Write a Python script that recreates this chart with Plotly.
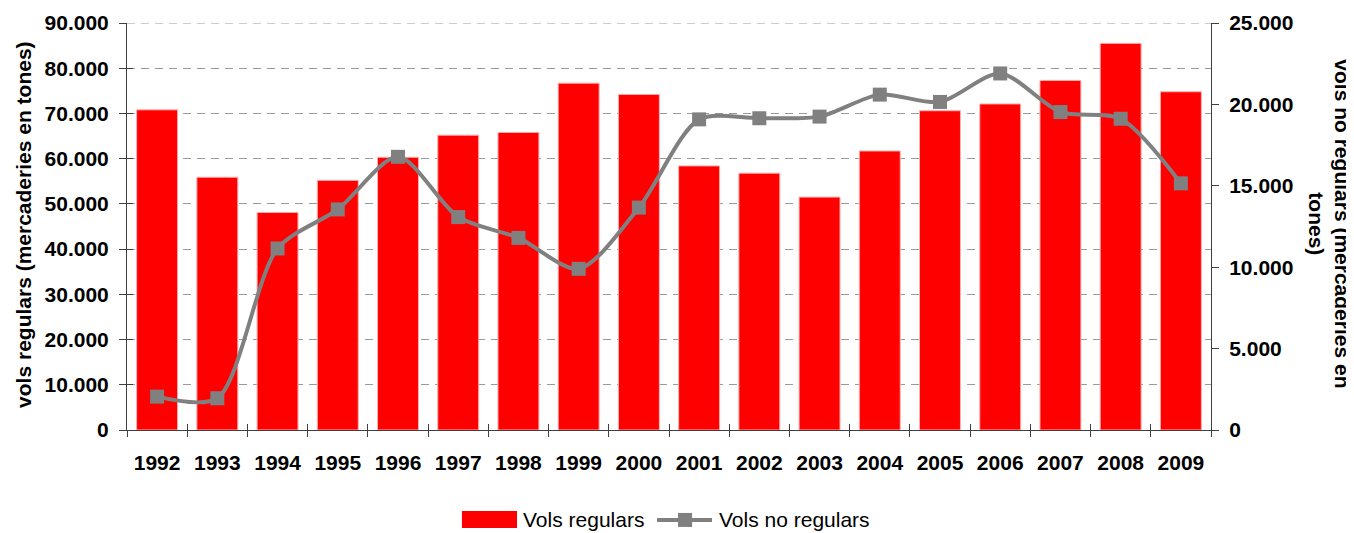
import plotly.graph_objects as go

years = ["1992", "1993", "1994", "1995", "1996", "1997", "1998", "1999", "2000",
         "2001", "2002", "2003", "2004", "2005", "2006", "2007", "2008", "2009"]
vols_regulars = [70800, 55900, 48100, 55200, 60300, 65200, 65800, 76700, 74200,
                 58400, 56800, 51500, 61700, 70600, 72100, 77300, 85500, 74800]
vols_no_regulars = [2050, 1950, 11150, 13550, 16780, 13080, 11800, 9900, 13660,
                    19080, 19150, 19250, 20600, 20150, 21900, 19530, 19120, 15150]
left_ticks = [0, 10000, 20000, 30000, 40000, 50000, 60000, 70000, 80000, 90000]
left_labels = ["0", "10.000", "20.000", "30.000", "40.000", "50.000", "60.000", "70.000", "80.000", "90.000"]
right_ticks = [0, 5000, 10000, 15000, 20000, 25000]
right_labels = ["0", "5.000", "10.000", "15.000", "20.000", "25.000"]

FONT = "Liberation Sans, Arial, sans-serif"
AX = "#404040"
BAR_C = "#FF0000"
LINE_C = "#808080"
GRID_C = "#9A9A9A"
FS = 21

fig = go.Figure()
fig.add_trace(go.Bar(
    x=years, y=vols_regulars, name="Vols regulars",
    marker=dict(color=BAR_C, line=dict(color="#FFB0B0", width=1)),
    yaxis="y", showlegend=False,
))
fig.add_trace(go.Scatter(
    x=years, y=vols_no_regulars, name="Vols no regulars",
    mode="lines+markers",
    line=dict(color=LINE_C, width=4, shape="spline", smoothing=0.8),
    marker=dict(symbol="square", size=14, color=LINE_C),
    yaxis="y2", showlegend=False,
))
# invisible helper trace so the inner-tick overlay axes get drawn
fig.add_trace(go.Scatter(
    x=years, y=vols_regulars, mode="lines", line=dict(width=0, color="rgba(0,0,0,0)"),
    xaxis="x2", yaxis="y3", hoverinfo="skip", showlegend=False,
))

ntick = dict(showline=False, showgrid=False, zeroline=False, showticklabels=False,
             ticks="inside", ticklen=6, tickcolor=AX)

fig.update_layout(
    width=1346, height=525,
    margin=dict(l=119, r=143, t=15, b=103, autoexpand=False),
    paper_bgcolor="white", plot_bgcolor="white",
    font=dict(family=FONT, color="black"),
    bargap=0.32,
    showlegend=False,
    xaxis=dict(
        type="category", range=[-0.5, 17.5], showline=True, linecolor=AX, linewidth=1,
        ticks="outside", ticklen=6, tickcolor=AX, tickson="boundaries",
        tickfont=dict(family=FONT, size=FS, color="black", weight="bold"),
        ticklabelstandoff=14, showgrid=False,
    ),
    xaxis2=dict(type="category", range=[-0.5, 17.5], overlaying="x", anchor="y",
                tickson="boundaries", categoryarray=years, **ntick),
    yaxis=dict(
        range=[0, 90000], tickvals=left_ticks, ticktext=left_labels,
        showline=True, linecolor=AX, linewidth=1,
        ticks="outside", ticklen=7, tickcolor=AX, ticklabelstandoff=6,
        tickfont=dict(family=FONT, size=FS, color="black", weight="bold"),
        showgrid=True, gridcolor=GRID_C, gridwidth=1, griddash="8px,6px",
        zeroline=False,
    ),
    yaxis3=dict(range=[0, 90000], tickvals=left_ticks, overlaying="y", side="left",
                anchor="x", **ntick),
    yaxis2=dict(
        range=[0, 25000], overlaying="y", side="right", anchor="x",
        tickvals=right_ticks, ticktext=right_labels,
        showline=True, linecolor=AX, linewidth=1,
        ticks="outside", ticklen=7, tickcolor=AX, ticklabelstandoff=6,
        tickfont=dict(family=FONT, size=FS, color="black", weight="bold"),
        showgrid=False, zeroline=False,
    ),
    annotations=[
        dict(text="<b>vols regulars (mercaderies en tones)</b>", xref="paper", yref="paper",
             x=-0.095, y=0.504, textangle=-90, showarrow=False, xanchor="center", yanchor="middle",
             font=dict(family=FONT, size=FS, color="black")),
        dict(text="<b>vols no regulars (mercaderies en</b>", xref="paper", yref="paper",
             x=1.1215, y=0.506, textangle=90, showarrow=False, xanchor="center", yanchor="middle",
             font=dict(family=FONT, size=FS, color="black")),
        dict(text="<b>tones)</b>", xref="paper", yref="paper",
             x=1.0975, y=0.506, textangle=90, showarrow=False, xanchor="center", yanchor="middle",
             font=dict(family=FONT, size=FS, color="black")),
        # legend texts
        dict(text="Vols regulars", xref="paper", yref="paper", x=0.3635, y=-0.221,
             xanchor="left", yanchor="middle", showarrow=False,
             font=dict(family=FONT, size=FS, color="black")),
        dict(text="Vols no regulars", xref="paper", yref="paper", x=0.5445, y=-0.221,
             xanchor="left", yanchor="middle", showarrow=False,
             font=dict(family=FONT, size=FS, color="black")),
    ],
    shapes=[
        # top gridline (plotly omits the gridline at the range edge)
        dict(type="line", xref="paper", yref="y", x0=0, x1=1, y0=90000, y1=90000,
             line=dict(color=GRID_C, width=1, dash="8px,6px"), layer="below"),
        # legend swatches
        dict(type="rect", xref="paper", yref="paper", x0=0.309, x1=0.3598, y0=-0.2408, y1=-0.199,
             fillcolor=BAR_C, line=dict(width=0)),
        dict(type="line", xref="paper", yref="paper", x0=0.4889, x1=0.5397, y0=-0.221, y1=-0.221,
             line=dict(color=LINE_C, width=4)),
        dict(type="rect", xref="paper", yref="paper", x0=0.5148 - 0.0065, x1=0.5148 + 0.0065,
             y0=-0.221 - 0.0172, y1=-0.221 + 0.0172, fillcolor=LINE_C, line=dict(width=0)),
    ],
)

fig.write_html("out.html")
